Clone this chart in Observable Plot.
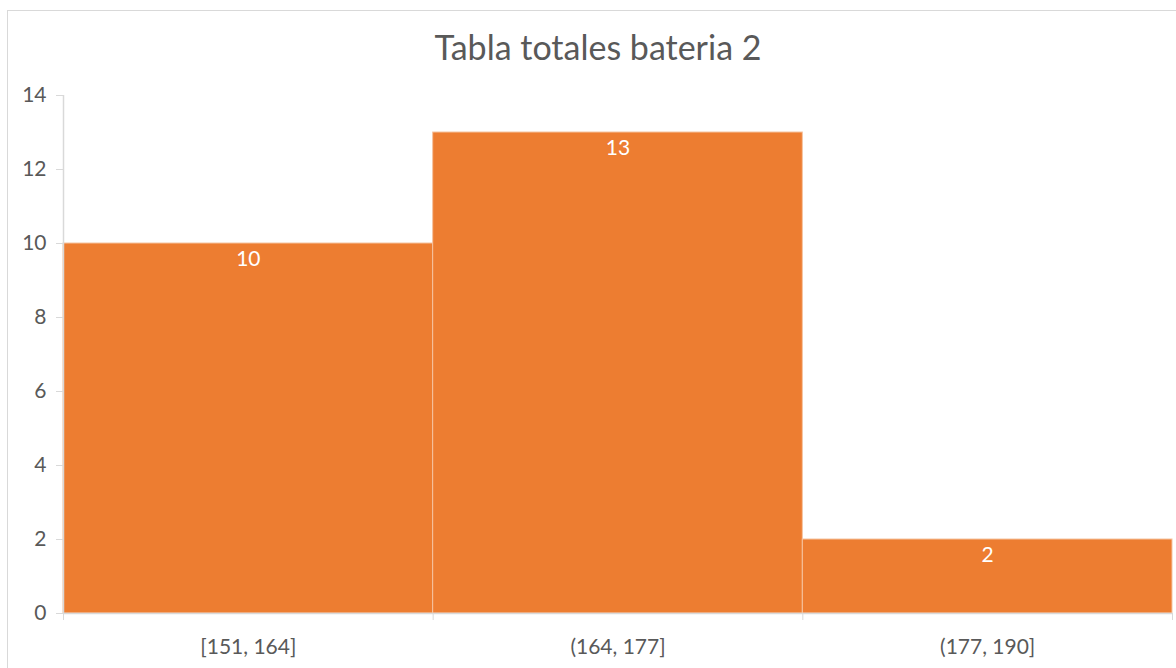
<!DOCTYPE html>
<html>
<head>
<meta charset="utf-8">
<script src="https://cdn.jsdelivr.net/npm/d3@7"></script>
<script src="https://cdn.jsdelivr.net/npm/@observablehq/plot@0.6"></script>
<style>
  html, body { margin: 0; padding: 0; background: #fff; }
  #wrap { position: relative; width: 1176px; height: 668px; overflow: hidden; font-family: Lato, "Open Sans", sans-serif; }
  #frame { position: absolute; left: 7px; top: 10px; width: 1200px; height: 700px; border: 1px solid #d9d9d9; box-sizing: border-box; }
  #title { position: absolute; left: 0; top: 27px; width: 1196px; text-align: center; font-size: 34px; line-height: 40px; color: #595959; }
  #chart { position: absolute; left: 0; top: 80px; }
</style>
</head>
<body>
<div id="wrap">
  <div id="frame"></div>
  <div id="title">Tabla totales bateria 2</div>
  <div id="chart"></div>
</div>
<script>
const binLower = [151, 164, 177];
const binUpper = [164, 177, 190];
const binLabels = ["[151, 164]", "(164, 177]", "(177, 190]"];
const counts = [10, 13, 2];
const yTicks = [0, 2, 4, 6, 8, 10, 12, 14];

const data = counts.map((c, i) => ({lo: binLower[i], hi: binUpper[i], mid: (binLower[i] + binUpper[i]) / 2, label: binLabels[i], count: c}));
const edges = [binLower[0], ...binUpper];

const plot = Plot.plot({
  width: 1176,
  height: 588,
  marginTop: 15,
  marginBottom: 55,
  marginLeft: 63,
  marginRight: 4,
  style: {fontFamily: "Lato, 'Open Sans', sans-serif", fontSize: "21px", color: "#595959", background: "transparent"},
  x: {domain: [edges[0], edges[edges.length - 1]]},
  y: {domain: [0, 14]},
  marks: [
    Plot.rectY(data, {x1: "lo", x2: "hi", y: "count", fill: "#ed7d31", stroke: "#f6c3a0", strokeWidth: 1}),
    Plot.ruleY([0], {x1: edges[0], x2: edges[edges.length - 1], stroke: "#d9d9d9", strokeWidth: 1.5}),
    Plot.ruleX([edges[0]], {y1: 0, y2: 14, stroke: "#d9d9d9", strokeWidth: 1.5}),
    Plot.axisY(yTicks, {tickSize: 7, tickPadding: 10, stroke: "#d9d9d9", fill: "#595959", label: null, fontSize: 21}),
    Plot.axisX(edges, {tickSize: 7, tickFormat: () => "", stroke: "#d9d9d9", label: null}),
    Plot.text(data, {x: "mid", y: 0, text: "label", dy: 34, lineAnchor: "middle", fill: "#595959", fontSize: 21}),
    Plot.text(data, {x: "mid", y: "count", text: d => String(d.count), dy: 16, lineAnchor: "middle", fill: "white", fontSize: 21})
  ]
});
document.getElementById("chart").appendChild(plot);
</script>
</body>
</html>
